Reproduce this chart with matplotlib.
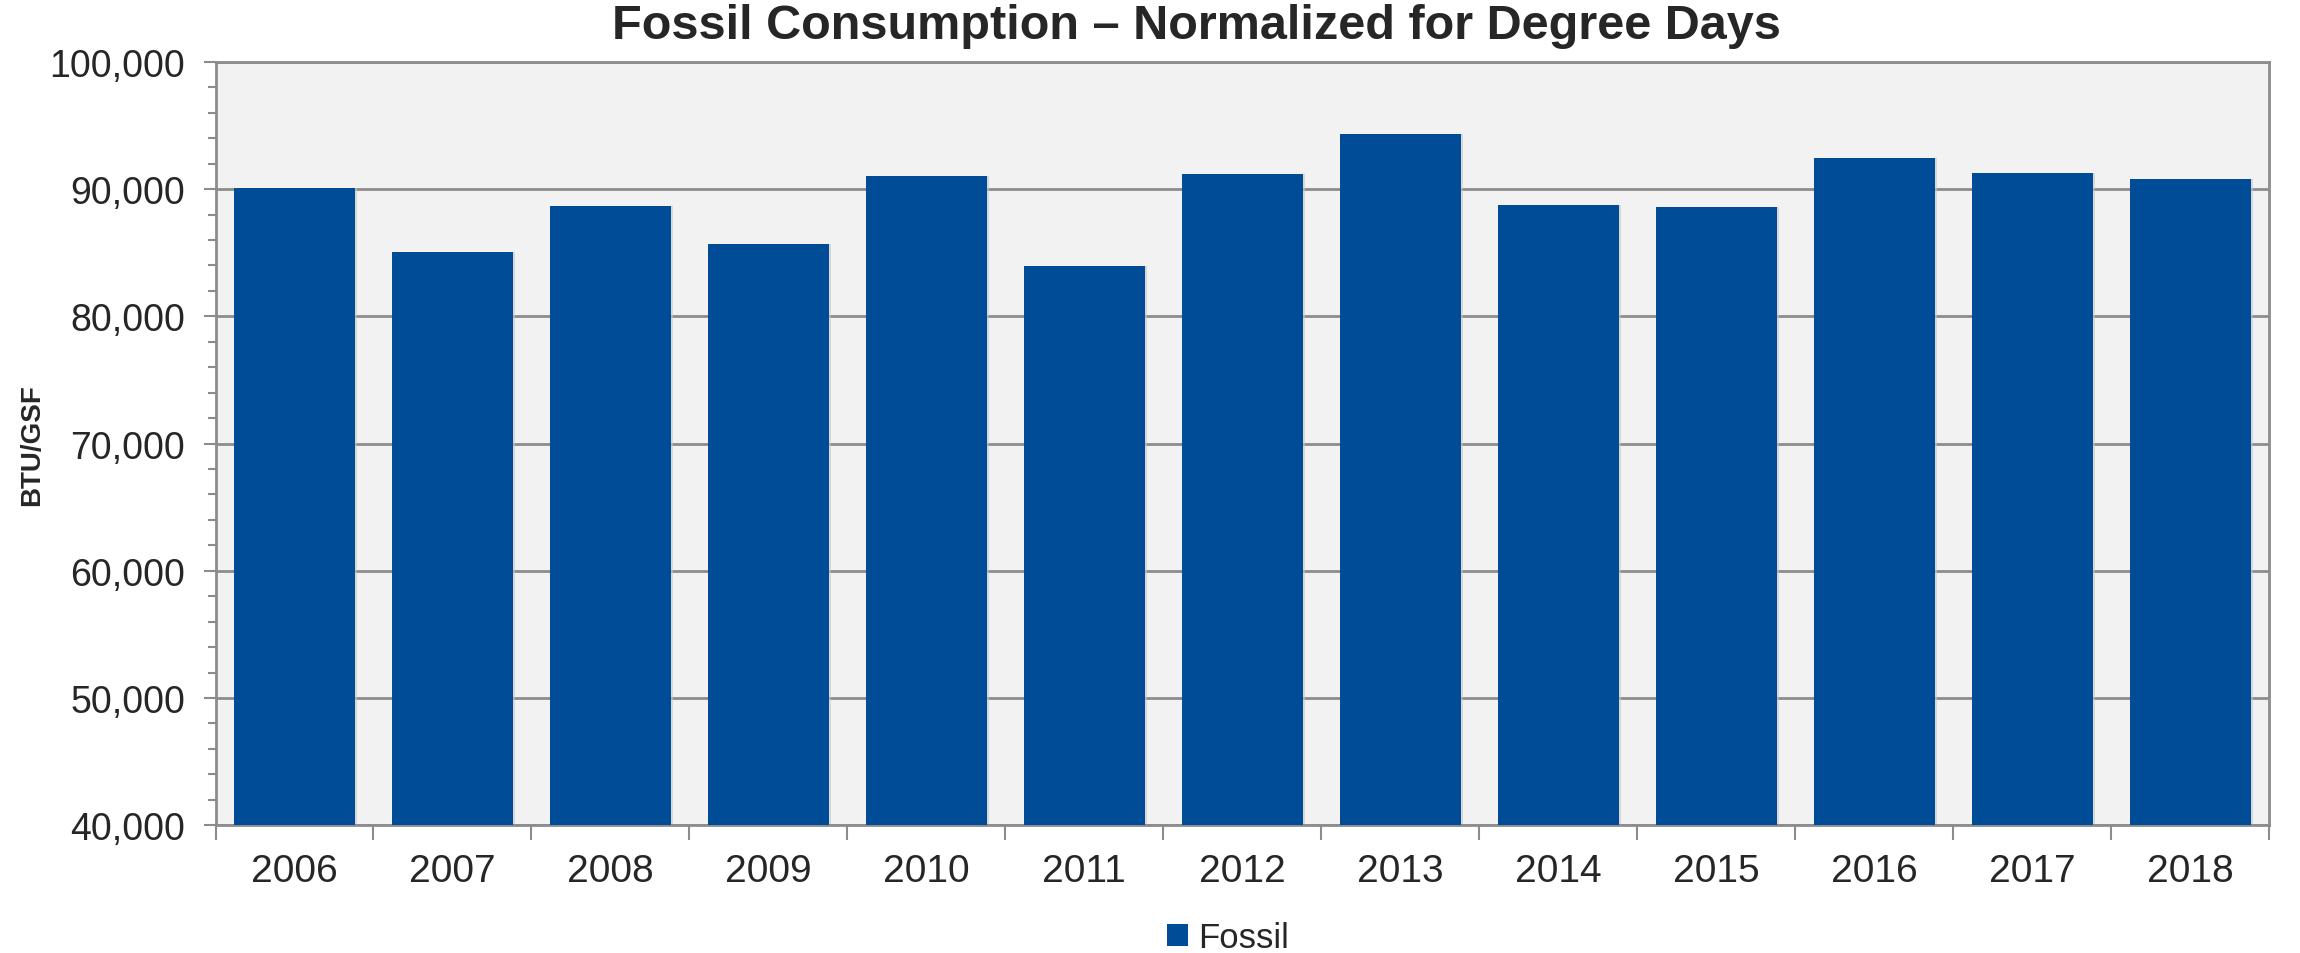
import numpy as np
import matplotlib
matplotlib.use('Agg')
import matplotlib.pyplot as plt
from matplotlib.ticker import FuncFormatter, MultipleLocator, FixedLocator

# ============================================================
# Data
# ============================================================
years = ["2006", "2007", "2008", "2009", "2010", "2011", "2012",
         "2013", "2014", "2015", "2016", "2017", "2018"]
fossil = [90130, 85090, 88640, 85710, 91070, 83990, 91200,
          94370, 88770, 88560, 92480, 91280, 90810]

BAR_COLOR = "#004C97"
GRID_COLOR = "#8C8C8C"
TEXT_COLOR = "#262626"

plt.rcParams['font.family'] = ['Liberation Sans', 'DejaVu Sans']

fig = plt.figure(figsize=(23, 9.54), dpi=100)
ax = fig.add_axes([0.0937, 0.134, 0.8929, 0.800])
ax.set_facecolor("#F2F2F2")

x = np.arange(len(years))
# faint shadow behind each bar
ax.bar(x + 0.012, fossil, width=0.77, bottom=0, color="#C8C8C8",
       alpha=0.6, zorder=2, linewidth=0)
bars = ax.bar(x, fossil, width=0.765, color=BAR_COLOR, zorder=3,
              linewidth=0, label="Fossil")

ax.set_ylim(40000, 100000)
ax.set_xlim(-0.5, len(years) - 0.5)

ax.yaxis.set_major_locator(MultipleLocator(10000))
ax.yaxis.set_minor_locator(MultipleLocator(2000))
ax.yaxis.set_major_formatter(FuncFormatter(lambda v, p: f"{int(v):,}"))
ax.grid(axis="y", which="major", color=GRID_COLOR, lw=2, zorder=1)

ax.set_xticks(x)
ax.set_xticklabels(years)
ax.xaxis.set_minor_locator(FixedLocator(np.arange(-0.5, len(years), 1.0)))
ax.tick_params(axis="x", which="major", length=0, pad=20,
               labelsize=28, labelcolor=TEXT_COLOR)
ax.tick_params(axis="x", which="minor", length=11, width=1.5,
               color=GRID_COLOR, direction="out")
ax.tick_params(axis="y", which="major", length=9, width=1.5,
               color=GRID_COLOR, labelsize=27, labelcolor=TEXT_COLOR, pad=13)
ax.tick_params(axis="y", which="minor", length=6, width=1.5,
               color=GRID_COLOR)

for side in ["left", "bottom", "right", "top"]:
    ax.spines[side].set_color(GRID_COLOR)
    ax.spines[side].set_linewidth(2)

ax.set_ylabel("BTU/GSF", fontsize=20, fontweight="bold",
              color=TEXT_COLOR, labelpad=3)

fig.text(0.52, 0.972, "Fossil Consumption \u2013 Normalized for Degree Days",
         ha="center", va="center", fontsize=35, fontweight="bold",
         color=TEXT_COLOR)

leg = fig.legend(handles=[bars], labels=["Fossil"], loc="center",
                 bbox_to_anchor=(0.534, 0.016), frameon=False,
                 fontsize=25, handlelength=0.6, handleheight=0.6,
                 handletextpad=0.3, labelcolor=TEXT_COLOR)

plt.savefig("out.png", dpi=100)
plt.close()
